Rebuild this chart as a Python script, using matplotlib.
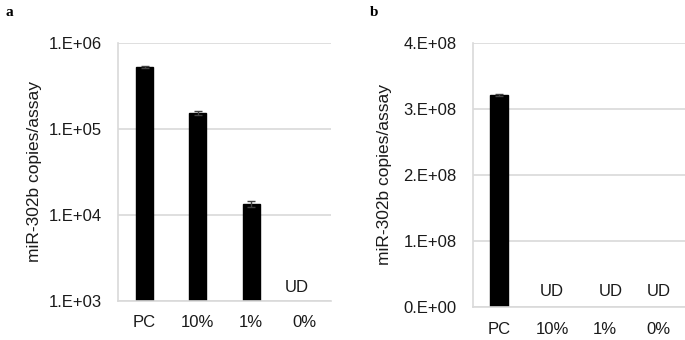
import matplotlib
matplotlib.use("Agg")
import matplotlib.pyplot as plt
import matplotlib.transforms as mtransforms
import numpy as np

plt.rcParams['font.family'] = ['Liberation Sans', 'DejaVu Sans']

categories = ["PC", "10%", "1%", "0%"]

# Panel a (log scale)
a_values = [5.25e5, 1.52e5, 1.35e4, np.nan]
a_errors = [1.5e4, 8e3, 1.0e3, 0]
a_detected = [True, True, True, False]
a_yticks = [1e3, 1e4, 1e5, 1e6]
a_yticklabels = ["1.E+03", "1.E+04", "1.E+05", "1.E+06"]

# Panel b (linear scale)
b_values = [3.21e8, np.nan, np.nan, np.nan]
b_errors = [1.5e6, 0, 0, 0]
b_detected = [True, False, False, False]
b_yticks = [0, 1e8, 2e8, 3e8, 4e8]
b_yticklabels = ["0.E+00", "1.E+08", "2.E+08", "3.E+08", "4.E+08"]

ylabel = "miR-302b copies/assay"
grid_color = "#d9d9d9"
text_color = "#1a1a1a"
fs = 12

W, H = 685, 340
fig = plt.figure(figsize=(W / 100, H / 100), dpi=100)


def px_axes(left, right, top, bottom):
    return fig.add_axes([left / W, (H - bottom) / H, (right - left) / W, (bottom - top) / H])


def style(ax, yticks, yticklabels, ypad, xpad):
    ax.set_xlim(-0.5, len(categories) - 0.5)
    ax.set_yticks(yticks)
    ax.set_yticklabels(yticklabels)
    ax.minorticks_off()
    ax.set_xticks(range(len(categories)))
    ax.set_xticklabels(categories)
    ax.tick_params(axis="y", length=0, pad=ypad, labelsize=fs, colors=text_color)
    ax.tick_params(axis="x", length=0, pad=xpad, labelsize=fs, colors=text_color)
    ax.yaxis.grid(True, color=grid_color, linewidth=1.2)
    ax.set_axisbelow(True)
    for s in ["top", "right"]:
        ax.spines[s].set_visible(False)
    for s in ["left", "bottom"]:
        ax.spines[s].set_color(grid_color)
        ax.spines[s].set_linewidth(1.2)


x = np.arange(len(categories))

# Panel a
axa = px_axes(118, 331, 43, 301)
axa.set_yscale("log")
axa.set_ylim(1e3, 1e6)
axa.bar(x, a_values, width=0.32, color="black", edgecolor="black",
        yerr=a_errors, error_kw=dict(ecolor="#404040", capsize=3, elinewidth=1, capthick=1))
style(axa, a_yticks, a_yticklabels, 11.5, 10)
axa.set_ylabel(ylabel, fontsize=12.5, color=text_color)
axa.yaxis.set_label_coords(-0.357, 0.5)
trans_a = mtransforms.blended_transform_factory(axa.transData, axa.transAxes)
for i, det in enumerate(a_detected):
    if not det:
        axa.text(i - 0.14, 0.054, "UD", transform=trans_a, ha="center", va="center",
                 fontsize=fs, color=text_color)

# Panel b
axb = px_axes(472.5, 685, 43, 306.7)
axb.set_ylim(0, 4e8)
axb.bar(x, b_values, width=0.33, color="black", edgecolor="black",
        yerr=b_errors, error_kw=dict(ecolor="#404040", capsize=3, elinewidth=1, capthick=1))
style(axb, b_yticks, b_yticklabels, 11.5, 11)
axb.set_ylabel(ylabel, fontsize=12.5, color=text_color)
axb.yaxis.set_label_coords(-0.379, 0.5)
trans_b = mtransforms.blended_transform_factory(axb.transData, axb.transAxes)
ud_offsets_b = [0, 0, 0.1, 0]
for i, det in enumerate(b_detected):
    if not det:
        axb.text(i + ud_offsets_b[i], 0.057, "UD", transform=trans_b, ha="center", va="center",
                 fontsize=fs, color=text_color)

# Panel letters
fig.text(5 / W, 1 - 13 / H, "a", fontsize=11, fontweight="bold",
         family=["Liberation Serif", "DejaVu Serif"], ha="left", va="center")
fig.text(370 / W, 1 - 13 / H, "b", fontsize=11, fontweight="bold",
         family=["Liberation Serif", "DejaVu Serif"], ha="left", va="center")

fig.savefig("out.png", dpi=100, facecolor="white")
